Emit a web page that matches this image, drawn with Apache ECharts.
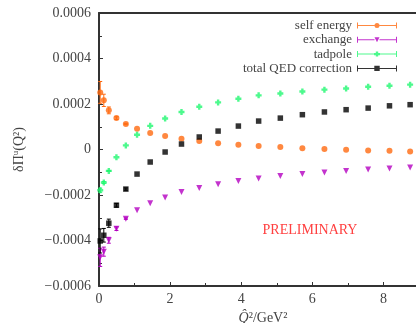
<!DOCTYPE html>
<html>
<head>
<meta charset="utf-8">
<script src="https://cdn.jsdelivr.net/npm/echarts@6/dist/echarts.min.js"></script>
<style>
html, body { margin: 0; padding: 0; background: #fff; }
#chart { width: 416px; height: 323px; }
</style>
</head>
<body>
<div id="chart"></div>
<script>
// Q^2 values (GeV^2)
var q2 = [0.034, 0.135, 0.276, 0.49, 0.755, 1.07, 1.44, 1.86, 2.32, 2.82, 3.35, 3.92, 4.49, 5.10, 5.72, 6.34, 6.95, 7.57, 8.17, 8.75];

var selfEnergy = [2.51e-4, 2.16e-4, 1.72e-4, 1.38e-4, 1.12e-4, 0.91e-4, 0.73e-4, 0.59e-4, 0.47e-4, 0.37e-4, 0.28e-4, 0.21e-4, 0.15e-4, 0.11e-4, 0.06e-4, 0.02e-4, -0.01e-4, -0.04e-4, -0.06e-4, -0.09e-4];
var selfEnergyErr = [0.48e-4, 0.27e-4, 0.15e-4, 0.06e-4, 0.03e-4, 0, 0, 0, 0, 0, 0, 0, 0, 0, 0, 0, 0, 0, 0, 0];

var exchange = [-4.74e-4, -4.49e-4, -3.99e-4, -3.48e-4, -3.04e-4, -2.67e-4, -2.36e-4, -2.11e-4, -1.87e-4, -1.69e-4, -1.53e-4, -1.39e-4, -1.27e-4, -1.17e-4, -1.08e-4, -1.01e-4, -0.95e-4, -0.88e-4, -0.84e-4, -0.79e-4];
var exchangeErr = [0.40e-4, 0.20e-4, 0.13e-4, 0.08e-4, 0.03e-4, 0, 0, 0, 0, 0, 0, 0, 0, 0, 0, 0, 0, 0, 0, 0];

var tadpole = [-1.79e-4, -1.45e-4, -0.94e-4, -0.34e-4, 0.18e-4, 0.65e-4, 1.04e-4, 1.36e-4, 1.65e-4, 1.88e-4, 2.07e-4, 2.23e-4, 2.38e-4, 2.46e-4, 2.55e-4, 2.63e-4, 2.68e-4, 2.76e-4, 2.80e-4, 2.85e-4];
var tadpoleErr = [0.09e-4, 0.04e-4, 0.02e-4, 0, 0, 0, 0, 0, 0, 0, 0, 0, 0, 0, 0, 0, 0, 0, 0, 0];

var totalQED = [-4.02e-4, -3.77e-4, -3.24e-4, -2.45e-4, -1.74e-4, -1.08e-4, -0.55e-4, -0.11e-4, 0.24e-4, 0.55e-4, 0.81e-4, 1.03e-4, 1.25e-4, 1.38e-4, 1.53e-4, 1.65e-4, 1.75e-4, 1.82e-4, 1.92e-4, 1.97e-4];
var totalQEDErr = [0.53e-4, 0.30e-4, 0.18e-4, 0.08e-4, 0.05e-4, 0, 0, 0, 0, 0, 0, 0, 0, 0, 0, 0, 0, 0, 0, 0];

var serif = 'Liberation Serif, DejaVu Serif, serif';
var textColor = '#444';

// gnuplot-like fat plus marker
var plusSymbol = 'path://M3,0 H7 V3 H10 V7 H7 V10 H3 V7 H0 V3 H3 Z';

// legend icons: error bar with marker, box 40x6
var capsBar = 'M0,0 H1 V6 H0 Z M39,0 H40 V6 H39 Z ';
var iconCircle = 'path://' + capsBar + 'M1,2.5 H17.5 V3.5 H1 Z M22.5,2.5 H39 V3.5 H22.5 Z M17.5,3 A2.5,2.5 0 1,1 22.5,3 A2.5,2.5 0 1,1 17.5,3 Z';
var iconTri = 'path://' + capsBar + 'M1,2.5 H17.5 V3.5 H1 Z M22.5,2.5 H39 V3.5 H22.5 Z M17.5,0.5 L22.5,0.5 L20,5.5 Z';
var iconPlus = 'path://' + capsBar + 'M1,2.5 H17 V3.5 H1 Z M23,2.5 H39 V3.5 H23 Z M18.8,0.5 H21.2 V1.8 H23 V4.2 H21.2 V5.5 H18.8 V4.2 H17 V1.8 H18.8 Z';
var iconSquare = 'path://' + capsBar + 'M1,2.5 H17.3 V3.5 H1 Z M22.7,2.5 H39 V3.5 H22.7 Z M17.3,0.3 H22.7 V5.7 H17.3 Z';

function pairs(ys, errs) {
    var out = [];
    for (var i = 0; i < q2.length; i++) {
        out.push(errs ? [q2[i], ys[i], errs[i]] : [q2[i], ys[i]]);
    }
    return out;
}

function errRender(params, api) {
    var x = api.value(0), y = api.value(1), e = api.value(2);
    if (!e) return;
    var top = api.coord([x, y + e]);
    var bot = api.coord([x, y - e]);
    var c = api.visual('color');
    var st = { stroke: c, lineWidth: 1 };
    return {
        type: 'group',
        children: [
            { type: 'line', shape: { x1: top[0], y1: top[1], x2: bot[0], y2: bot[1] }, style: st },
            { type: 'line', shape: { x1: top[0] - 2, y1: top[1], x2: top[0] + 2, y2: top[1] }, style: st },
            { type: 'line', shape: { x1: bot[0] - 2, y1: bot[1], x2: bot[0] + 2, y2: bot[1] }, style: st }
        ]
    };
}

function makeSeries(name, ys, errs, color, symbol, size, rotate) {
    return [
        {
            type: 'custom',
            renderItem: errRender,
            itemStyle: { color: color },
            data: pairs(ys, errs),
            z: 1,
            silent: true
        },
        {
            name: name,
            type: 'scatter',
            symbol: symbol,
            symbolSize: size,
            symbolRotate: rotate || 0,
            itemStyle: { color: color },
            data: pairs(ys),
            z: 2
        }
    ];
}

var series = [].concat(
    makeSeries('self energy', selfEnergy, selfEnergyErr, '#ff6a10', 'circle', 6),
    makeSeries('exchange', exchange, exchangeErr, '#b400c0', 'triangle', 6, 180),
    makeSeries('tadpole', tadpole, tadpoleErr, '#20f870', plusSymbol, 6),
    makeSeries('total QED correction', totalQED, totalQEDErr, '#000000', 'rect', 5.5)
);

function yFmt(v) {
    if (Math.abs(v) < 1e-12) return '0';
    return (v < 0 ? '\u2212' : '') + Math.abs(v).toFixed(4);
}

var chart = echarts.init(document.getElementById('chart'));
chart.setOption({
    animation: false,
    grid: { left: 99, top: 13, bottom: 37, right: -3, containLabel: false, outerBoundsMode: 'none' },
    legend: {
        orient: 'vertical',
        right: 14,
        top: 14,
        align: 'right',
        itemWidth: 40,
        itemHeight: 6,
        itemGap: 1.3,
        selectedMode: false,
        textStyle: { fontFamily: serif, fontSize: 13, color: textColor },
        data: [
            { name: 'self energy', icon: iconCircle },
            { name: 'exchange', icon: iconTri },
            { name: 'tadpole', icon: iconPlus },
            { name: 'total QED correction', icon: iconSquare }
        ]
    },
    xAxis: [
        {
            type: 'value',
            min: 0,
            max: 9,
            interval: 2,
            name: '{i|Q\u0302}{r|\u00b2/GeV\u00b2}',
            nameLocation: 'middle',
            nameGap: 22,
            nameTextStyle: {
                padding: [0, 0, 0, 8],
                rich: {
                    i: { fontFamily: serif, fontSize: 14, fontStyle: 'italic', color: textColor },
                    r: { fontFamily: serif, fontSize: 14, color: textColor }
                }
            },
            axisLine: { show: true, onZero: false, lineStyle: { color: '#333', width: 2 } },
            axisTick: { show: true, inside: true, length: 4, lineStyle: { color: '#333' } },
            minorTick: { show: true, splitNumber: 2, length: 3, lineStyle: { color: '#333' } },
            axisLabel: { fontFamily: serif, fontSize: 14, color: textColor, margin: 6, showMaxLabel: false },
            splitLine: { show: false }
        },
        {
            type: 'value',
            position: 'top',
            min: 0,
            max: 9,
            interval: 2,
            axisLine: { show: true, onZero: false, lineStyle: { color: '#333', width: 2 } },
            axisTick: { show: false },
            axisLabel: { show: false },
            splitLine: { show: false }
        }
    ],
    yAxis: {
        type: 'value',
        min: -0.0006,
        max: 0.0006,
        interval: 0.0002,
        name: '{a|\u03b4\u03a0}{s|u}{a|(Q\u00b2)}',
        nameLocation: 'middle',
        nameGap: 72,
        nameTextStyle: {
            rich: {
                a: { fontFamily: serif, fontSize: 14, color: textColor, lineHeight: 16 },
                s: { fontFamily: serif, fontSize: 9, color: textColor, verticalAlign: 'top', lineHeight: 16 }
            }
        },
        axisLine: { show: true, onZero: false, lineStyle: { color: '#333', width: 2 } },
        axisTick: { show: true, inside: true, length: 4, lineStyle: { color: '#333' } },
        minorTick: { show: true, splitNumber: 2, length: 3, lineStyle: { color: '#333' } },
        axisLabel: { fontFamily: serif, fontSize: 14, color: textColor, margin: 8, formatter: yFmt },
        splitLine: { show: false }
    },
    graphic: [
        {
            type: 'text',
            x: 310,
            y: 230,
            style: {
                text: 'PRELIMINARY',
                fill: '#ff4040',
                font: '14px Liberation Serif',
                align: 'center',
                verticalAlign: 'middle'
            }
        }
    ],
    series: series
});
</script>
</body>
</html>
